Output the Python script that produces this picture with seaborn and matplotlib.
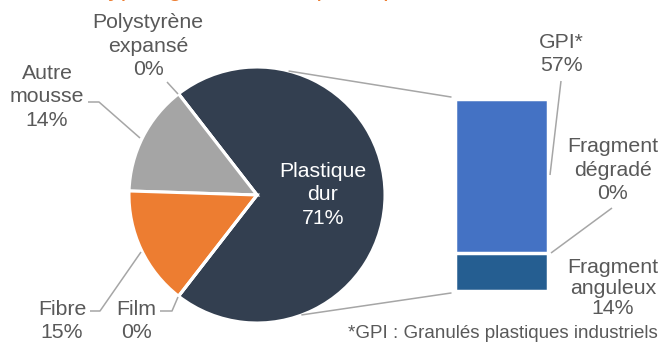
import matplotlib
matplotlib.use("Agg")
import matplotlib.pyplot as plt
import seaborn as sns
import numpy as np

# ---- data ----
pie_labels = ["Plastique\ndur", "Polystyrène\nexpansé", "Autre\nmousse", "Fibre", "Film"]
pie_values = [71, 0, 14, 15, 0]
bar_labels = ["Fragment\nanguleux", "Fragment\ndégradé", "GPI*"]
bar_values = [14, 0, 57]
title = "Typologie des microplastiques"
footnote = "*GPI : Granulés plastiques industriels"

# ---- style ----
sns.set_theme(style="white")
plt.rcParams["font.family"] = ["Liberation Sans", "DejaVu Sans"]
TXT = "#595959"
LINE = "#A6A6A6"
pie_colors = ["#333F50", "#333F50", "#A5A5A5", "#ED7D31", "#7F7F7F"]
bar_colors = ["#255E91", "#5B9BD5", "#4472C4"]

W, H = 659, 343
fig = plt.figure(figsize=(W / 100, H / 100), dpi=100)
ax = fig.add_axes([0, 0, 1, 1])

def Y(py):
    return H - py

cx, cy, R = 257, Y(195), 128
start = -pie_values[0] / sum(pie_values) * 360 / 2
ax.pie(pie_values, colors=pie_colors, startangle=start, counterclock=True,
       center=(cx, cy), radius=R,
       wedgeprops=dict(edgecolor="white", linewidth=2.2))
ax.set_xlim(0, W)
ax.set_ylim(0, H)
ax.set_aspect("equal")
ax.axis("off")

fs = 15.3
LS = 1.29

def label(x, y, s, color=TXT, ls=LS, size=fs):
    ax.text(x, Y(y), s, color=color, ha="center", va="center",
            fontsize=size, linespacing=ls)

# pie labels
label(323, 195, f"{pie_labels[0]}\n{pie_values[0]}%", color="white")
label(148, 46, f"{pie_labels[1]}\n{pie_values[1]}%")
label(47, 97, f"{pie_labels[2]}\n{pie_values[2]}%")
label(62, 321, f"{pie_labels[3]}\n{pie_values[3]}%")
label(136, 321, f"{pie_labels[4]}\n{pie_values[4]}%")

# pie leader lines
def poly(pts):
    xs = [p[0] for p in pts]
    ys = [Y(p[1]) for p in pts]
    ax.plot(xs, ys, color=LINE, lw=1.1, solid_capstyle="butt")

poly([(167, 82), (178, 94)])
poly([(88, 102), (99, 102), (140, 138)])
poly([(90, 311), (100, 311), (141, 252)])
poly([(160, 311), (172, 311), (178, 297)])

# connector lines pie -> bar
a1, a2 = np.deg2rad(75.5), np.deg2rad(-69.5)
ax.plot([cx + R * np.cos(a1), 451], [cy + R * np.sin(a1), Y(97)], color=LINE, lw=1.1)
ax.plot([cx + R * np.cos(a2), 451], [cy + R * np.sin(a2), Y(293)], color=LINE, lw=1.1)

# stacked bar (seaborn)
bx = fig.add_axes([455 / W, Y(291) / H, 93 / W, 192 / H])
cum = np.cumsum(bar_values)
for i in range(len(bar_values) - 1, -1, -1):
    if bar_values[i] == 0:
        continue
    sns.barplot(x=[0], y=[cum[i]], color=bar_colors[i], width=1.0, ax=bx,
                saturation=1, edgecolor="white", linewidth=2.5)
bx.set_xlim(-0.5, 0.5)
bx.set_ylim(0, cum[-1])
bx.axis("off")

# bar labels
label(561, 54, f"{bar_labels[2]}\n{bar_values[2]}%")
label(613, 170, f"{bar_labels[1]}\n{bar_values[1]}%")
label(613, 288, f"{bar_labels[0]}\n{bar_values[0]}%", ls=1.1)
poly([(561, 81), (550, 175)])
poly([(612, 208), (551, 253)])

# footnote
ax.text(658, Y(334), footnote, color=TXT, ha="right", va="center", fontsize=13.5)

# title (clipped at top as in reference)
ax.text(97, Y(-4), title, color="#ED7D31", fontsize=18, fontstyle="italic",
        ha="left", va="baseline", clip_on=False)

fig.savefig("out.png", dpi=100)
